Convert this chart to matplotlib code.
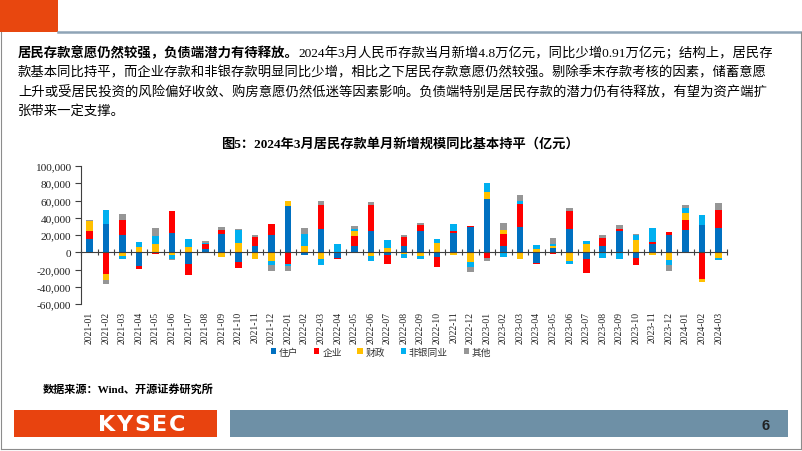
import matplotlib
matplotlib.use("Agg")
import matplotlib.pyplot as plt
from matplotlib.patches import Rectangle
from matplotlib.lines import Line2D
import matplotlib.ticker as mticker
import numpy as np

plt.rcParams['font.family'] = ['Liberation Serif', 'Noto Sans CJK SC']

months = ["2021-01", "2021-02", "2021-03", "2021-04", "2021-05", "2021-06", "2021-07", "2021-08",
          "2021-09", "2021-10", "2021-11", "2021-12", "2022-01", "2022-02", "2022-03", "2022-04",
          "2022-05", "2022-06", "2022-07", "2022-08", "2022-09", "2022-10", "2022-11", "2022-12",
          "2023-01", "2023-02", "2023-03", "2023-04", "2023-05", "2023-06", "2023-07", "2023-08",
          "2023-09", "2023-10", "2023-11", "2023-12", "2024-01", "2024-02", "2024-03"]

household = [15300, 33000, 19600, -15500, 500, 22000, -14000, 3700, 21000, -11800, 7800, 19600,
             53500, -2900, 27000, -6300, 7400, 24300, -3500, 7800, 24300, -5200, 22000, 29400,
             62300, 7800, 29000, -12200, 5100, 27000, -8200, 7800, 25000, -6300, 9400, 20000,
             25500, 32100, 28200]
enterprise = [9000, -24700, 17600, -4100, -2000, 25500, -12600, 5500, 5100, -6300, 10200, 13300,
              -13800, 0, 27400, -1500, 11000, 30200, -10600, 10200, 7000, -11600, 2800, 800,
              -7000, 13000, 26700, -1200, -2000, 20400, -15700, 9000, 2400, -8600, 2400, 3100,
              11400, -30600, 21200]
fiscal = [11800, -7800, -4300, 5600, 9600, -3100, 6200, 0, -5300, 10800, -7500, -10200,
          5800, 7000, -8200, 0, 5900, -4300, 4700, -2000, -4300, 10800, -3100, -11400,
          7000, 4700, -8200, 4300, 2000, -10200, 9400, 0, -1000, 14100, -3100, -9000,
          9000, -3900, -7000]
nonbank = [0, 16000, -3500, 6000, 8400, -5100, 9300, 1500, 0, 14500, 0, -4700,
           -1900, 14000, -6700, 9000, 2700, -5900, 9400, -5100, -3500, 4300, 7800, -5500,
           10600, -5100, 3500, 3900, 2400, -3500, 3900, -7000, -7000, 5900, 16500, -5900,
           5100, 11400, -2000]
other = [1200, -4700, 7400, 0, 9400, -800, 0, 2500, 3100, 1200, 2400, -6300,
         -5800, 7000, 5100, 500, 3500, 4300, 0, 1600, 2700, 0, 500, -5900,
         -3100, 8200, 6700, 0, 7000, 3900, 0, 3100, 3900, 1200, 0, -7000,
         3900, 0, 8200]

series_names = ["住户", "企业", "财政", "非银同业", "其他"]
series_values = [household, enterprise, fiscal, nonbank, other]
series_colors = ["#0070C0", "#FF0000", "#FFC000", "#00B0F0", "#969696"]

para_bold = "居民存款意愿仍然较强，负债端潜力有待释放。"
para_lines = ["2024年3月人民币存款当月新增4.8万亿元，同比少增0.91万亿元；结构上，居民存",
              "款基本同比持平，而企业存款和非银存款明显同比少增，相比之下居民存款意愿仍然较强。剔除季末存款考核的因素，储蓄意愿",
              "上升或受居民投资的风险偏好收敛、购房意愿仍然低迷等因素影响。负债端特别是居民存款的潜力仍有待释放，有望为资产端扩",
              "张带来一定支撑。"]
caption = "图5：2024年3月居民存款单月新增规模同比基本持平（亿元）"
source = "数据来源：Wind、开源证券研究所"
logo = "KYSEC"
page = "6"

W, H = 802, 452
fig = plt.figure(figsize=(W / 100, H / 100), dpi=100)
renderer = fig.canvas.get_renderer()


def fx(x):
    return x / W


def fy(y):
    return 1 - y / H


# slide decorations
fig.add_artist(Rectangle((0, fy(33)), fx(58), 33 / H, transform=fig.transFigure,
                         facecolor='#E8470F', edgecolor='none'))
fig.add_artist(Line2D([fx(58), 1], [fy(33), fy(33)], color='#8FA4B6', lw=1.8))
fig.add_artist(Line2D([fx(0.5), fx(0.5)], [fy(33), fy(450)], color='#8C8C8C', lw=0.8))
fig.add_artist(Line2D([fx(800.5), fx(800.5)], [fy(33), fy(450)], color='#8C8C8C', lw=0.8))
fig.add_artist(Line2D([fx(0.5), fx(800.5)], [fy(450), fy(450)], color='#8C8C8C', lw=0.8))

fig.add_artist(Rectangle((fx(14), fy(438)), fx(217) - fx(14), 27 / H, transform=fig.transFigure,
                         facecolor='#E8430F', edgecolor='none'))
fig.add_artist(Rectangle((fx(230), fy(438)), fx(788) - fx(230), 27 / H, transform=fig.transFigure,
                         facecolor='#6E90A6', edgecolor='none'))
cursor = 98.0
for ch in logo:
    t = fig.text(fx(cursor), fy(425), ch, color='white', fontsize=16, fontweight='bold',
                 family=['DejaVu Sans'], ha='left', va='center')
    cursor += t.get_window_extent(renderer).width + 1.5
fig.text(fx(766), fy(426), page, color='#222222', fontsize=10.5, fontweight='bold',
         family=['Liberation Sans Narrow', 'Liberation Sans'], ha='center', va='center')

# paragraph
fs_para = 9.6
tb = fig.text(fx(18), fy(53), para_bold, fontsize=fs_para, fontweight='bold', ha='left', va='center')
bb = tb.get_window_extent(renderer)
fig.text(bb.x1 / W, fy(53), para_lines[0], fontsize=fs_para, ha='left', va='center')
for i, line in enumerate(para_lines[1:]):
    fig.text(fx(18), fy(73 + 19.3 * i), line, fontsize=fs_para, ha='left', va='center')

fig.text(fx(400), fy(144), caption, fontsize=9.5, fontweight='bold', ha='center', va='center')
fig.text(fx(43), fy(389), source, fontsize=8, fontweight='bold', ha='left', va='center')

# chart
ax = fig.add_axes([fx(81), fy(305), fx(727) - fx(81), (305 - 167) / H])
x = np.arange(len(months))
pos_base = np.zeros(len(months))
neg_base = np.zeros(len(months))
handles = []
for name, vals, col in zip(series_names, series_values, series_colors):
    v = np.array(vals, dtype=float)
    bottoms = np.where(v >= 0, pos_base, neg_base)
    h = ax.bar(x, v, width=0.4, bottom=bottoms, color=col, label=name, linewidth=0)
    handles.append(h)
    pos_base = pos_base + np.where(v > 0, v, 0)
    neg_base = neg_base + np.where(v < 0, v, 0)

ax.set_xlim(-0.5, len(months) - 0.5)
ax.set_ylim(-60000, 100000)
ax.yaxis.set_major_locator(mticker.MultipleLocator(20000))
ax.yaxis.set_major_formatter(mticker.FuncFormatter(lambda v, p: f"{int(v):,}"))
ax.tick_params(axis='y', direction='out', length=4, width=0.8, labelsize=8.2, colors='#404040',
               labelcolor='#222222', pad=3)

for s in ['top', 'right']:
    ax.spines[s].set_visible(False)
ax.spines['left'].set_color('#404040')
ax.spines['left'].set_linewidth(0.8)
ax.spines['bottom'].set_position(('data', 0))
ax.spines['bottom'].set_color('#404040')
ax.spines['bottom'].set_linewidth(0.8)

ax.set_xticks(x)
ax.set_xticklabels(months, rotation=90, fontsize=6.9, color='#222222')
ax.set_xticks(np.arange(-0.5, len(months) + 0.5, 1), minor=True)
ax.tick_params(axis='x', which='major', length=0, pad=42)
ax.tick_params(axis='x', which='minor', direction='inout', length=4, width=0.8, color='#404040')
ax.patch.set_alpha(0)

fig.legend(handles=handles, labels=series_names, loc='center', ncol=5,
           bbox_to_anchor=(fx(381), fy(353)), frameon=False, fontsize=7,
           handlelength=0.55, handleheight=0.55, handletextpad=0.3, columnspacing=1.6,
           labelcolor='#333333')

fig.savefig("out.png", dpi=100)
